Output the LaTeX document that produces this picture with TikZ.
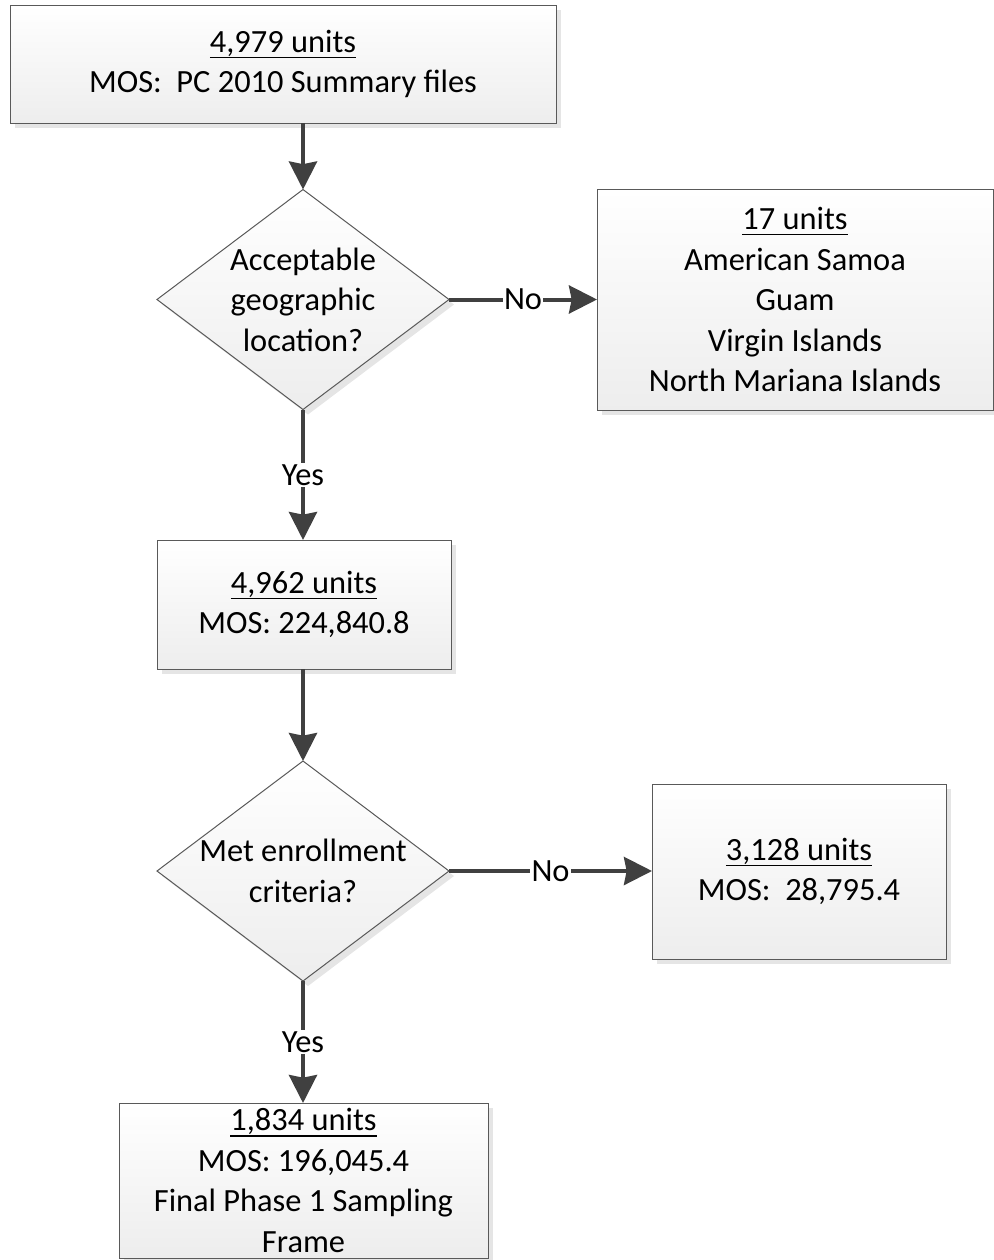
\documentclass[tikz,border=0pt]{standalone}
\usepackage{fontspec}
\setmainfont{Carlito}
\newcommand{\myul}[1]{\setbox0=\hbox{#1}\rlap{\vrule width \wd0 height -3.3pt depth 4.4pt}\box0}
\usetikzlibrary{shapes.geometric,shadows,arrows.meta}
\def\px{0.75pt}
\begin{document}
\begin{tikzpicture}[x=0.75pt,y=-0.75pt,
  font=\fontsize{24.3pt}{30.4pt}\selectfont,
  shadowed/.style={drop shadow={shadow xshift=3.75pt, shadow yshift=-3.75pt, fill=black!10, opacity=1}},
  box/.style={rectangle, draw=black!65, line width=0.75pt, top color=white, bottom color=black!7,
    shadowed, align=center, inner sep=0pt, outer sep=0pt},
  dec/.style={diamond, draw=black!65, line width=0.75pt, top color=white, bottom color=black!7,
    shadowed, inner sep=0pt, outer sep=0pt, minimum width=292*\px, minimum height=220*\px},
  dectext/.style={align=center, inner sep=0pt},
  flow/.style={draw=black!75, line width=3pt, -{Stealth[length=21pt,width=21pt,inset=2pt]}},
  lab/.style={fill=white, inner sep=1pt}
]
\useasboundingbox (0,0) rectangle (994,1260);

\node[box, minimum width=546*\px, minimum height=118*\px] (b1) at (283,64)
  {\myul{4,979 units}\\MOS:\ \ PC 2010 Summary files};

\node[dec] (d1) at (303,299.5) {};
\node[dectext] (t1) at (d1.center) {Acceptable\\geographic\\location?};

\node[box, minimum width=396*\px, minimum height=221*\px] (b2) at (795,299.5)
  {\myul{17 units}\\American Samoa\\Guam\\Virgin Islands\\North Mariana Islands};

\node[box, minimum width=294*\px, minimum height=129*\px] (b3) at (304,604.5)
  {\myul{4,962 units}\\MOS: 224,840.8};

\node[dec] (d2) at (303,871) {};
\node[dectext] (t2) at (d2.center) {Met enrollment\\criteria?};

\node[box, minimum width=294*\px, minimum height=175*\px] (b4) at (799,871.5)
  {\myul{3,128 units}\\MOS:\ \ 28,795.4};

\node[box, minimum width=369*\px, minimum height=155*\px] (b5) at (303.5,1180.5)
  {\myul{1,834 units}\\MOS: 196,045.4\\Final Phase 1 Sampling\\Frame};

\draw[flow] (b1.south -| d1.north) -- (d1.north);
\draw[flow] (d1.east) -- node[lab] {No} (b2.west |- d1.east);
\draw[flow] (d1.south) -- node[lab] {Yes} (d1.south |- b3.north);
\draw[flow] (d2.north |- b3.south) -- (d2.north);
\draw[flow] (d2.east) -- node[lab] {No} (b4.west |- d2.east);
\draw[flow] (d2.south) -- node[lab] {Yes} (d2.south |- b5.north);
\end{tikzpicture}
\end{document}
